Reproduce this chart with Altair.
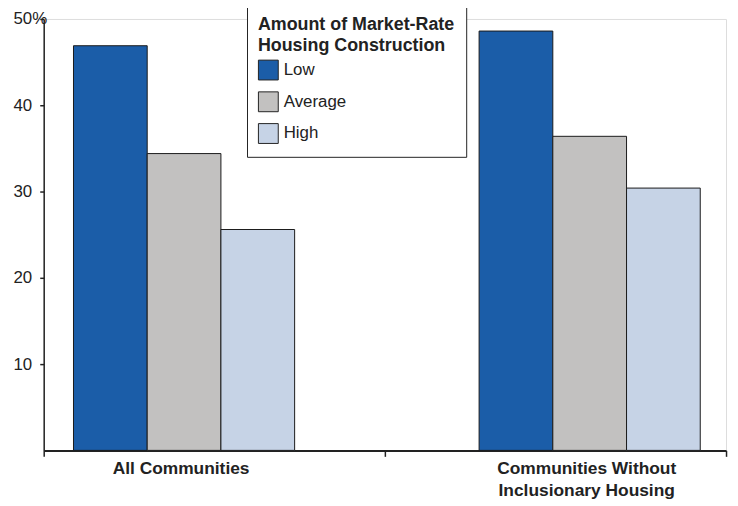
import altair as alt
import pandas as pd

groups = ["All Communities", "All Communities", "All Communities",
          "Communities Without Inclusionary Housing",
          "Communities Without Inclusionary Housing",
          "Communities Without Inclusionary Housing"]
levels = ["Low", "Average", "High", "Low", "Average", "High"]
values = [46.9, 34.4, 25.6, 48.6, 36.4, 30.4]
level_order = ["Low", "Average", "High"]
level_colors = ["#1b5da8", "#c2c1c0", "#c6d3e6"]
y_ticks = [10, 20, 30, 40, 50]
x_axis_ticks = [0, 1, 2]

df = pd.DataFrame({"group": groups, "level": levels, "value": values})
tick_df = pd.DataFrame({"t": x_axis_ticks})

font = "Liberation Sans"

bars = alt.Chart(df).mark_bar(stroke="#1a1a1a", strokeWidth=1).encode(
    x=alt.X("group:N",
            sort=None,
            scale=alt.Scale(paddingInner=0.4548, paddingOuter=0.0685, align=0.536),
            axis=alt.Axis(title=None, labelAngle=0, ticks=False,
                          labelFont=font, labelFontSize=17.5, labelFontWeight="bold",
                          labelColor="#222", labelPadding=9, labelLineHeight=23,
                          labelLimit=300, labelOffset=-3, labelBaseline="top",
                          domainColor="#222", domainWidth=2,
                          labelExpr="datum.label == 'Communities Without Inclusionary Housing' ? ['Communities Without', 'Inclusionary Housing'] : datum.label")),
    xOffset=alt.XOffset("level:N", sort=level_order,
                        scale=alt.Scale(paddingInner=0, paddingOuter=0)),
    y=alt.Y("value:Q",
            scale=alt.Scale(domain=[0, 50], nice=False),
            axis=alt.Axis(title=None, values=y_ticks, grid=False,
                          labelFont=font, labelFontSize=17, labelColor="#222",
                          labelAlign="left", labelPadding=27, tickSize=4,
                          tickColor="#222", tickWidth=1.5,
                          domainColor="#222", domainWidth=1.5,
                          labelExpr="datum.value == 50 ? '50%' : datum.label")),
    color=alt.Color("level:N", sort=level_order,
                    scale=alt.Scale(domain=level_order, range=level_colors),
                    legend=alt.Legend(
                        title=["Amount of Market-Rate", "Housing Construction"],
                        orient="none", legendX=205, legendY=-14,
                        padding=11, strokeColor="#222", fillColor="white",
                        titleFont=font, titleFontSize=18, titleFontWeight="bold",
                        titleColor="#222", titleLineHeight=21, titleLimit=300,
                        titlePadding=5,
                        labelFont=font, labelFontSize=17, labelColor="#222",
                        labelOffset=5,
                        symbolType="square", symbolSize=400,
                        symbolStrokeColor="#222", symbolStrokeWidth=1,
                        rowPadding=7)),
)

ticks_layer = alt.Chart(tick_df).mark_point(opacity=0).encode(
    x=alt.X("t:Q", scale=alt.Scale(domain=[0, 2], nice=False, zero=False),
            axis=alt.Axis(values=x_axis_ticks, labels=False, domain=False,
                          ticks=True, tickSize=6, tickColor="#222", tickWidth=1.5,
                          grid=False, title=None, orient="bottom"))
)

chart = alt.layer(bars, ticks_layer).resolve_scale(x="independent").properties(
    width=688, height=435,
    autosize=alt.AutoSizeParams(type="none"),
    padding={"left": 36, "top": 9, "right": 4, "bottom": 53},
).configure_view(stroke=None).configure(background="white")

chart.save("out.html", embed_options={"renderer": "svg", "actions": False})
